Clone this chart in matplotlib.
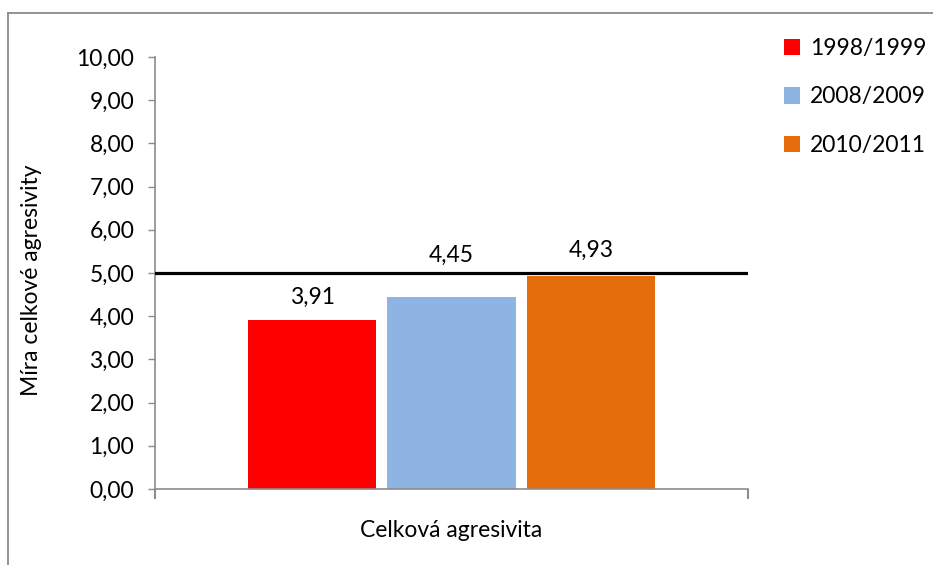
import matplotlib
matplotlib.use("Agg")
import matplotlib.pyplot as plt
from matplotlib.lines import Line2D
from matplotlib.ticker import FuncFormatter

plt.rcParams['font.family'] = ['Lato', 'DejaVu Sans']

# data
seasons = ["1998/1999", "2008/2009", "2010/2011"]
values = [3.91, 4.45, 4.93]
colors = ["#ff0000", "#8db4e2", "#e46c0a"]
category = "Celková agresivita"
ylabel = "Míra celkové agresivity"
norm_value = 5.0

# label offsets above bar tops (points), Excel nudged the middle one up
label_offsets = [16.5, 29.5, 18.7]

fig = plt.figure(figsize=(9.33, 5.65), dpi=100)
ax = fig.add_axes([155 / 933, 1 - 489 / 565, 593 / 933, 432 / 565])

gray = "#8c8c8c"
fs = 16.5

step = 0.235
width = 0.216
for i, (s, v, c) in enumerate(zip(seasons, values, colors)):
    x = (i - 1) * step
    ax.bar(x, v, width=width, color=c, label=s, zorder=2)
    ax.annotate(f"{v:.2f}".replace(".", ","), (x, v), xytext=(0, label_offsets[i]),
                textcoords="offset points", ha="center", va="center", fontsize=fs)

ax.axhline(norm_value, color="black", lw=2.3, zorder=3)

ax.set_xlim(-0.5, 0.5)
ax.set_ylim(0, 10)
ax.set_yticks(range(0, 11))
ax.yaxis.set_major_formatter(FuncFormatter(lambda v, p: f"{v:.2f}".replace(".", ",")))
ax.set_xticks([-0.5, 0.5])
ax.set_xticklabels(["", ""])
ax.tick_params(axis="y", direction="out", length=5, width=1, color=gray, labelsize=fs, pad=10)
ax.tick_params(axis="x", direction="out", length=7, width=1.5, color=gray)

for side in ["top", "right"]:
    ax.spines[side].set_visible(False)
for side in ["left", "bottom"]:
    ax.spines[side].set_color(gray)
    ax.spines[side].set_linewidth(1.2)

ax.set_ylabel(ylabel, fontsize=fs)
ax.yaxis.set_label_coords(-0.19, 0.484)
ax.set_xlabel(category, fontsize=fs)
ax.xaxis.set_label_coords(0.5, -0.072)

ax.legend(loc="upper left", bbox_to_anchor=(784 / 933, 1 - 38 / 565),
          bbox_transform=fig.transFigure, frameon=False, fontsize=fs,
          handlelength=0.7, handleheight=0.7, handletextpad=0.45,
          labelspacing=1.2, borderpad=0, borderaxespad=0)

# outer chart border (cut off at right/bottom like the screenshot)
fig.add_artist(Line2D([8 / 933, 1.0], [1 - 13 / 565, 1 - 13 / 565],
                      transform=fig.transFigure, color="#8a8a8a", lw=1.3))
fig.add_artist(Line2D([8 / 933, 8 / 933], [0, 1 - 13 / 565],
                      transform=fig.transFigure, color="#8a8a8a", lw=1.3))

fig.savefig("out.png", dpi=100)
